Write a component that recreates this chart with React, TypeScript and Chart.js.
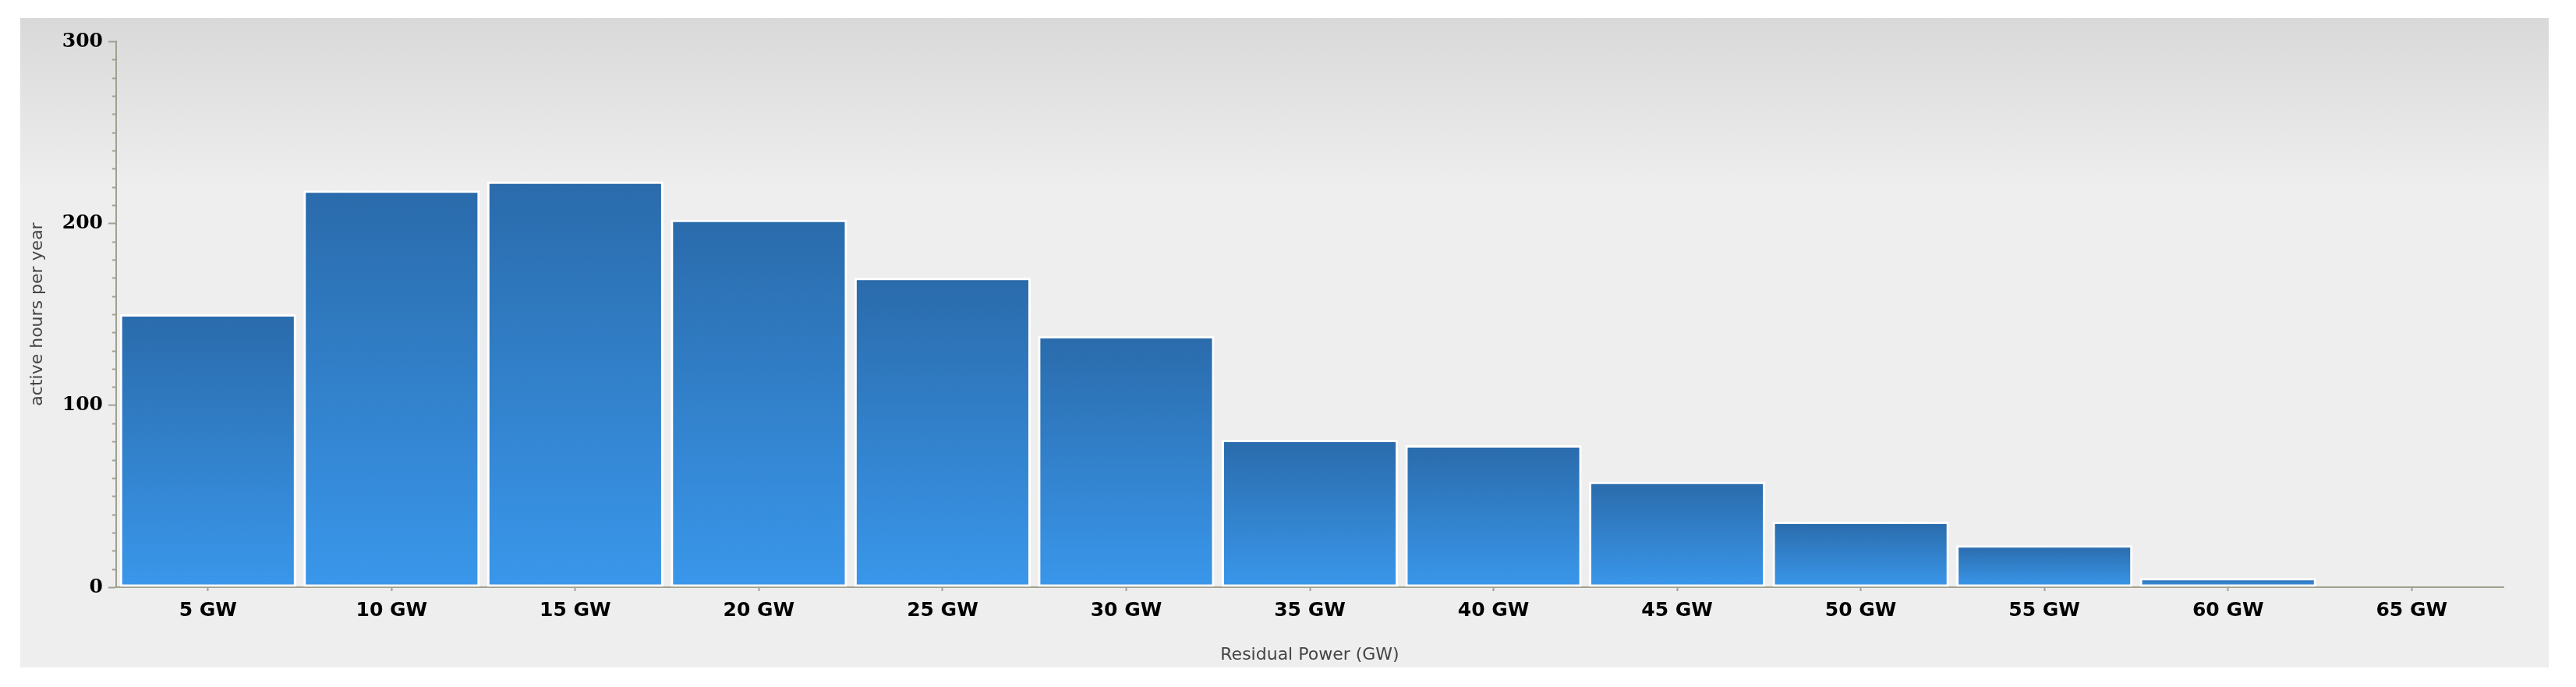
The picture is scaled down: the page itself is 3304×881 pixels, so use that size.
import React, { useEffect, useRef } from "react";
import { Chart, registerables } from "chart.js";

Chart.register(...registerables);

const categories = ["5 GW", "10 GW", "15 GW", "20 GW", "25 GW", "30 GW", "35 GW", "40 GW", "45 GW", "50 GW", "55 GW", "60 GW", "65 GW"];
const activeHours = [150, 218, 223, 202, 170, 138, 81, 78, 58, 36, 23, 5, 0];
const yMin = 0;
const yMax = 300;
const yStep = 10;
const yMajorStep = 100;
const xTitle = "Residual Power (GW)";
const yTitle = "active hours per year";

const W = 3304;
const H = 881;
const AXIS_COLOR = "#a0a090";

const backgroundPlugin = {
  id: "panelBackground",
  beforeDraw(chart: any) {
    const { ctx } = chart;
    ctx.save();
    ctx.fillStyle = "#ffffff";
    ctx.fillRect(0, 0, chart.width, chart.height);
    const g = ctx.createLinearGradient(0, 23, 0, 240);
    g.addColorStop(0, "#d9d9d9");
    g.addColorStop(1, "#eeeeee");
    ctx.fillStyle = g;
    ctx.fillRect(26, 23, 3269 - 26, 856 - 23);
    ctx.restore();
  },
};

const minorTickPlugin = {
  id: "minorTicks",
  afterDraw(chart: any) {
    const { ctx } = chart;
    const y = chart.scales.y;
    const x0 = chart.chartArea.left;
    ctx.save();
    ctx.strokeStyle = AXIS_COLOR;
    ctx.lineWidth = 2;
    for (let v = yMin; v <= yMax; v += yStep) {
      if (v % yMajorStep === 0) continue;
      const py = Math.round(y.getPixelForValue(v)) + 0.5;
      ctx.beginPath();
      ctx.moveTo(x0 - 5, py);
      ctx.lineTo(x0, py);
      ctx.stroke();
    }
    ctx.restore();
  },
};

export default function App() {
  const ref = useRef<HTMLCanvasElement | null>(null);

  useEffect(() => {
    if (!ref.current) return;
    const chart = new Chart(ref.current, {
      type: "bar",
      data: {
        labels: categories,
        datasets: [
          {
            label: yTitle,
            data: activeHours,
            backgroundColor: (c: any) => {
              const ch = c.chart;
              const { ctx, chartArea, scales } = ch;
              if (!chartArea || c.type !== "data" || !scales.y) return "#3080d0";
              const top = scales.y.getPixelForValue(c.raw);
              const base = scales.y.getPixelForValue(0);
              if (base - top < 1) return "#3a96ea";
              const g = ctx.createLinearGradient(0, top, 0, base);
              g.addColorStop(0, "#2a6bab");
              g.addColorStop(1, "#3a97eb");
              return g;
            },
            borderColor: "#ffffff",
            borderWidth: 3,
            borderSkipped: false,
            barPercentage: 0.96,
            categoryPercentage: 1.0,
          },
        ],
      },
      options: {
        responsive: false,
        animation: false,
        devicePixelRatio: 1,
        layout: { padding: { left: 0, top: 53, right: 93, bottom: 0 } },
        plugins: {
          legend: { display: false },
          tooltip: { enabled: false },
        },
        scales: {
          x: {
            type: "category",
            offset: true,
            afterFit: (s: any) => {
              s.height = 128;
            },
            grid: {
              offset: false,
              drawOnChartArea: false,
              drawTicks: true,
              tickLength: 5,
              tickWidth: 2,
              tickColor: AXIS_COLOR,
              color: AXIS_COLOR,
            },
            border: { display: true, color: AXIS_COLOR, width: 2 },
            ticks: {
              color: "#000000",
              padding: 10,
              maxRotation: 0,
              autoSkip: false,
              font: { family: "DejaVu Sans", weight: "bold", size: 25 },
            },
            title: {
              display: true,
              text: xTitle,
              color: "#444444",
              font: { family: "DejaVu Sans", size: 22 },
              padding: { top: 0, bottom: 28 },
            },
          },
          y: {
            type: "linear",
            min: yMin,
            max: yMax,
            afterFit: (s: any) => {
              s.width = 149;
            },
            grid: {
              drawOnChartArea: false,
              drawTicks: true,
              tickLength: 10,
              tickWidth: 2,
              tickColor: (c: any) =>
                c.tick && c.tick.value % yMajorStep === 0 ? AXIS_COLOR : "rgba(0,0,0,0)",
              color: AXIS_COLOR,
            },
            border: { display: true, color: AXIS_COLOR, width: 2 },
            ticks: {
              stepSize: yStep,
              autoSkip: false,
              padding: 7,
              color: "#000000",
              font: { family: "DejaVu Serif", weight: "bold", size: 25 },
              callback: (v: any) => (Number(v) % yMajorStep === 0 ? String(v) : ""),
            },
            title: {
              display: true,
              text: yTitle,
              color: "#444444",
              font: { family: "DejaVu Sans", size: 22 },
              padding: { top: 35, bottom: 0 },
            },
          },
        },
      },
      plugins: [backgroundPlugin, minorTickPlugin],
    } as any);
    return () => chart.destroy();
  }, []);

  return (
    <div style={{ position: "absolute", left: 0, top: 0, width: W, height: H }}>
      <canvas ref={ref} width={W} height={H} style={{ display: "block" }} />
    </div>
  );
}
